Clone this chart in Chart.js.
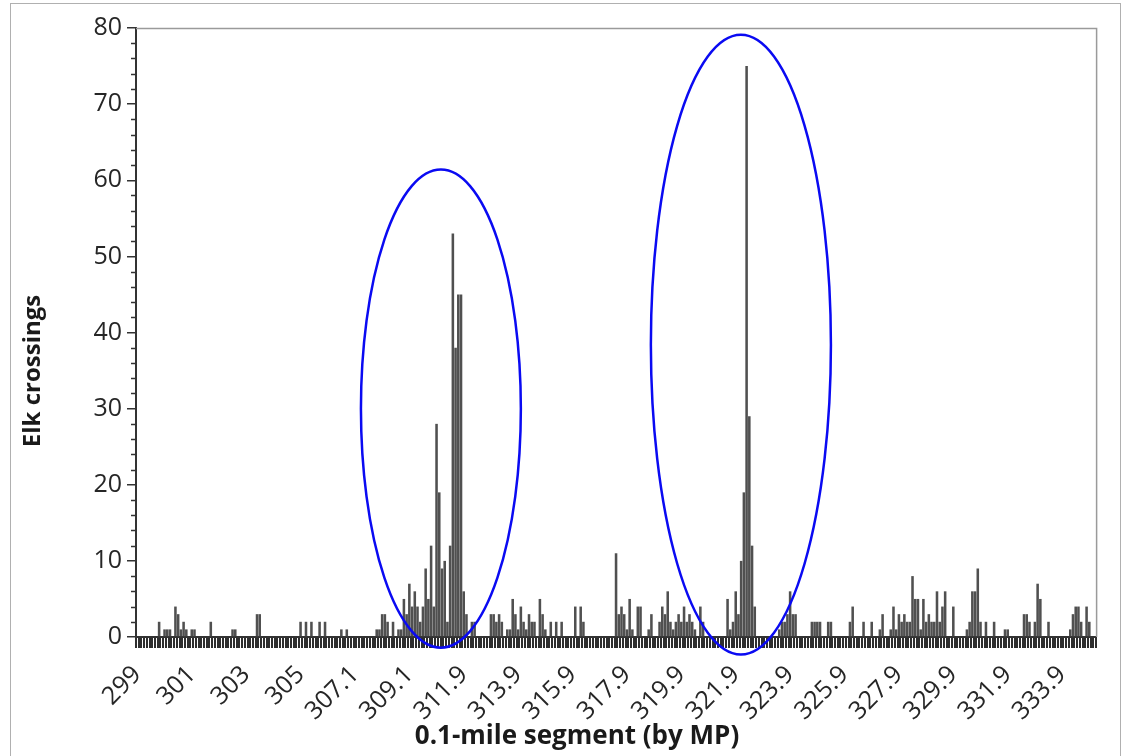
<!DOCTYPE html>
<html>
<head>
<meta charset="utf-8">
<script src="https://cdn.jsdelivr.net/npm/chart.js@4.4.1/dist/chart.umd.min.js"></script>
<style>
  html, body { margin: 0; padding: 0; background: #fff; }
  #wrap { width: 1128px; height: 756px; }
</style>
</head>
<body>
<div id="wrap"><canvas id="elkChart" width="1128" height="756"></canvas></div>
<script>
// elk crossings per 0.1-mile segment, one row = 20 segments (one labelled tick)
const crossings = [
  0,0,0,0,0,0,0,0,2,0, 1,1,1,0,4,3,1,2,1,0,
  1,1,0,0,0,0,0,2,0,0, 0,0,0,0,0,1,1,0,0,0,
  0,0,0,0,3,3,0,0,0,0, 0,0,0,0,0,0,0,0,0,0,
  2,0,2,0,2,0,0,2,0,2, 0,0,0,0,0,1,0,1,0,0,
  0,0,0,0,0,0,0,0,1,1, 3,3,2,0,2,0,1,1,5,3,
  7,4,6,4,2,4,9,5,12,4, 28,19,9,10,2,12,53,38,45,45,
  6,3,0,2,2,0,0,0,0,0, 3,3,2,3,2,0,1,1,5,3,
  1,4,2,1,3,2,2,0,5,3, 1,0,2,0,2,0,2,0,0,0,
  0,4,0,4,2,0,0,0,0,0, 0,0,0,0,0,0,11,3,4,3,
  1,5,1,0,4,4,0,0,1,3, 0,0,2,4,3,6,2,1,2,3,
  2,4,2,3,2,1,0,4,2,0, 0,0,0,0,0,0,0,5,1,2,
  6,3,10,19,75,29,12,4,0,0, 0,0,0,0,0,0,1,2,2,3,
  6,3,3,0,0,0,0,0,2,2, 2,2,0,0,2,2,0,0,0,0,
  0,0,2,4,0,0,0,2,0,0, 2,0,0,1,3,0,0,1,4,1,
  3,2,3,2,2,8,5,5,1,5, 2,3,2,2,6,2,4,6,0,0,
  4,0,0,0,0,1,2,6,6,9, 2,0,2,0,0,2,0,0,0,1,
  1,0,0,0,0,0,3,3,2,0, 2,7,5,0,0,2,0,0,0,0,
  0,0,0,1,3,4,4,2,0,4, 2,0,0
];

const tickLabels = ['299','301','303','305','307.1','309.1','311.9','313.9','315.9',
  '317.9','319.9','321.9','323.9','325.9','327.9','329.9','331.9','333.9'];
const LABEL_EVERY = 20;

const xTitle = '0.1-mile segment (by MP)';
const yTitle = 'Elk crossings';

// every segment is a category, only every 20th one gets a label
const segments = crossings.map((v, i) => (i % LABEL_EVERY === 0 ? (tickLabels[i / LABEL_EVERY] || '') : ''));

// blue ellipses round the two hot spots (segment index / crossings units)
const highlights = [
  { seg: 111.6, value: 30, segRadius: 29.4, valueRadius: 31.4 },
  { seg: 221.9, value: 38.4, segRadius: 33.1, valueRadius: 40.7 }
];

const frame = {
  id: 'frame',
  beforeDraw(chart) {
    const ctx = chart.ctx;
    ctx.save();
    ctx.fillStyle = '#fff';
    ctx.fillRect(0, 0, chart.width, chart.height);
    ctx.strokeStyle = '#b0b0b0';
    ctx.lineWidth = 1;
    ctx.strokeRect(10.5, 3.5, 1110, 800);
    ctx.restore();
  },
  afterDraw(chart) {
    const { ctx, chartArea: a, scales } = chart;
    ctx.save();
    // top and right edge of plot area
    ctx.strokeStyle = '#9a9a9a';
    ctx.lineWidth = 1.5;
    ctx.beginPath();
    ctx.moveTo(a.left, a.top + 0.5);
    ctx.lineTo(a.right + 0.5, a.top + 0.5);
    ctx.lineTo(a.right + 0.5, a.bottom);
    ctx.stroke();
    // minor ticks on the y axis
    ctx.strokeStyle = '#333';
    ctx.lineWidth = 1.5;
    for (let v = 2; v < 80; v += 2) {
      if (v % 10 === 0) continue;
      const py = Math.round(scales.y.getPixelForValue(v)) + 0.5;
      ctx.beginPath();
      ctx.moveTo(a.left - 5, py);
      ctx.lineTo(a.left, py);
      ctx.stroke();
    }
    // axis titles (sit off-centre in the original)
    ctx.fillStyle = '#1a1a1a';
    ctx.textAlign = 'center';
    ctx.textBaseline = 'middle';
    ctx.font = 'bold 26px "Open Sans"';
    ctx.fillText(xTitle, 577, 737);
    ctx.save();
    ctx.translate(33, 371);
    ctx.rotate(-Math.PI / 2);
    ctx.font = 'bold 24px "Open Sans"';
    ctx.fillText(yTitle, 0, 0);
    ctx.restore();
    // ellipses
    const x = scales.x, y = scales.y;
    const segW = x.getPixelForValue(1) - x.getPixelForValue(0);
    const unitH = y.getPixelForValue(0) - y.getPixelForValue(1);
    ctx.strokeStyle = '#0a0af2';
    ctx.lineWidth = 2.5;
    highlights.forEach(h => {
      ctx.beginPath();
      ctx.ellipse(x.getPixelForValue(h.seg), y.getPixelForValue(h.value),
        h.segRadius * segW, h.valueRadius * unitH, 0, 0, Math.PI * 2);
      ctx.stroke();
    });
    ctx.restore();
  }
};

new Chart(document.getElementById('elkChart'), {
  type: 'bar',
  data: {
    labels: segments,
    datasets: [{
      data: crossings,
      backgroundColor: '#505050',
      borderWidth: 0,
      barPercentage: 0.94,
      categoryPercentage: 1
    }]
  },
  options: {
    responsive: false,
    animation: false,
    layout: { padding: { left: 14, top: 28, right: 31, bottom: 0 } },
    plugins: { legend: { display: false }, tooltip: { enabled: false } },
    scales: {
      x: {
        afterFit: s => { s.height = 119; },
        grid: { drawOnChartArea: false, drawTicks: true, tickLength: 11, color: '#2e2e2e', lineWidth: 2 },
        border: { display: true, color: '#333', width: 2 },
        ticks: {
          autoSkip: false, maxRotation: 45, minRotation: 45, padding: 12,
          color: '#262626', font: { family: 'Open Sans', size: 25 }
        }
      },
      y: {
        min: 0, max: 80,
        afterFit: s => { s.width = 122; },
        grid: { drawOnChartArea: false, drawTicks: true, tickLength: 9, color: '#333', lineWidth: 1.5 },
        border: { display: true, color: '#333', width: 2 },
        ticks: {
          stepSize: 10, padding: 5, color: '#262626',
          font: { family: 'Open Sans', size: 25 }
        }
      }
    }
  },
  plugins: [frame]
});
</script>
</body>
</html>
